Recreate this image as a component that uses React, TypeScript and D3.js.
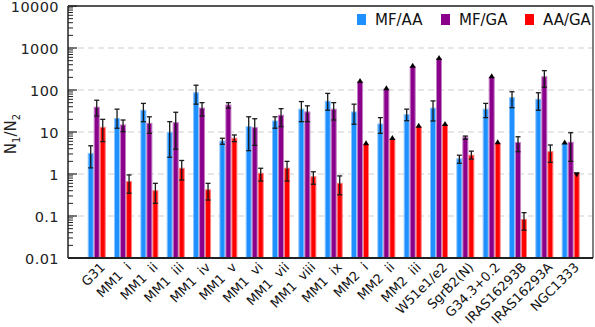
import React from "react";
import * as d3 from "d3";

const categories = [
  "G31", "MM1  i", "MM1  ii", "MM1  iii", "MM1  iv", "MM1  v", "MM1  vi", "MM1  vii",
  "MM1  viii", "MM1  ix", "MM2  i", "MM2  ii", "MM2  iii", "W51e1/e2", "SgrB2(N)",
  "G34.3+0.2", "IRAS16293B", "IRAS16293A", "NGC1333",
];

// MF/AA
const mfAA = [3.1, 21, 33, 9.8, 86, 6.1, 13.4, 18.3, 35, 54, 30, 15.5, 26, 37, 2.3, 35, 66, 60, 5.3];
const mfAALo = [1.4, 12.3, 17.6, 2.5, 46, 5.1, 3.6, 12.3, 17.6, 33, 15.3, 9.3, 18.6, 18.3, 1.8, 22, 38, 33, null];
const mfAAHi = [4.7, 35, 48, 17.6, 130, 7.1, 23, 23, 53, 83, 46, 22, 35, 55, 2.8, 48, 91, 86, null];
const mfAALim = ["", "", "", "", "", "", "", "", "", "", "", "", "", "", "", "", "", "", "lower"];

// MF/GA
const mfGA = [39, 14.7, 16.1, 16.7, 37, 44, 12.7, 25, 30, 35, 155, 104, 360, 550, 7.5, 200, 5.6, 207, 5.7];
const mfGALo = [24, 10.2, 9.3, 3.9, 24, 37, 4.8, 13.4, 17.6, 19.3, null, null, null, null, 6.7, null, 3.4, 116, 2.0];
const mfGAHi = [57, 19.3, 23, 29.5, 50, 50, 20.7, 36, 42, 50, null, null, null, null, 8.0, null, 7.7, 289, 9.6];
const mfGALim = ["", "", "", "", "", "", "", "", "", "", "lower", "lower", "lower", "lower", "", "lower", "", "", ""];

// AA/GA
const aaGA = [12.9, 0.66, 0.4, 1.37, 0.42, 7.1, 1.04, 1.37, 0.86, 0.6, 5.1, 6.8, 13.4, 14.7, 2.8, 5.4, 0.083, 3.4, 1.04];
const aaGALo = [5.9, 0.35, 0.2, 0.72, 0.24, 5.9, 0.68, 0.68, 0.57, 0.32, null, null, null, null, 2.27, null, 0.046, 1.9, null];
const aaGAHi = [20, 0.95, 0.6, 2.1, 0.6, 8.5, 1.37, 2.0, 1.13, 0.9, null, null, null, null, 3.5, null, 0.12, 4.9, null];
const aaGALim = ["", "", "", "", "", "", "", "", "", "", "lower", "lower", "lower", "lower", "", "lower", "", "", "upper"];

const series = [
  { key: "MF/AA", color: "#1e90ff", edge: "#8cc4ff", vals: mfAA, lo: mfAALo, hi: mfAAHi, lim: mfAALim },
  { key: "MF/GA", color: "#8b008b", edge: "#c47fc4", vals: mfGA, lo: mfGALo, hi: mfGAHi, lim: mfGALim },
  { key: "AA/GA", color: "#ff0000", edge: "#ff8080", vals: aaGA, lo: aaGALo, hi: aaGAHi, lim: aaGALim },
];

const yTicks = [0.01, 0.1, 1, 10, 100, 1000, 10000];
const gridTicks = [0.1, 1, 10, 100, 1000];

const W = 595, H = 327;
const left = 68, right = 593, top = 6, bottom = 258;
const font = "'DejaVu Sans', sans-serif";

export default function App() {
  const y = d3.scaleLog().domain([0.01, 10000]).range([bottom, top]);
  const x0 = d3.scaleBand().domain(categories).range([79.4, 588]).padding(0.316);
  const x1 = d3.scaleBand().domain(series.map((s) => s.key)).range([0, x0.bandwidth()]);
  const bw = x1.bandwidth();

  // minor ticks 2..9 per decade
  const minor: number[] = [];
  for (let e = -2; e < 4; e++) for (let m = 2; m <= 9; m++) minor.push(m * Math.pow(10, e));

  const legendX = [357, 441, 525];

  return (
    <svg width={W} height={H} style={{ position: "absolute", left: 0, top: 0, background: "#fff" }} fontFamily={font}>
      {gridTicks.map((t) => (
        <line key={t} x1={left} x2={right} y1={y(t)} y2={y(t)} stroke="#cfcfcf" strokeWidth={1} strokeDasharray="6,4" />
      ))}

      {categories.map((c, i) => (
        <g key={c} transform={`translate(${x0(c)},0)`}>
          {series.map((s) => {
            const bx = x1(s.key)!;
            const v = s.vals[i];
            const cx = bx + bw / 2;
            const lo = s.lo[i], hi = s.hi[i], lim = s.lim[i];
            return (
              <g key={s.key}>
                <rect x={bx + 0.5} y={y(v)} width={bw - 1} height={bottom - y(v)} fill={s.color} stroke={s.edge} strokeWidth={1} />
                {lo != null && hi != null && (
                  <g stroke="#1a1a1a" strokeWidth={1.3}>
                    <line x1={cx} x2={cx} y1={y(lo)} y2={y(hi)} />
                    <line x1={cx - 2.5} x2={cx + 2.5} y1={y(lo)} y2={y(lo)} />
                    <line x1={cx - 2.5} x2={cx + 2.5} y1={y(hi)} y2={y(hi)} />
                  </g>
                )}
                {lim === "lower" && (
                  <path d={`M${cx - 3},${y(v) + 1}L${cx + 3},${y(v) + 1}L${cx},${y(v) - 4}Z`} fill="#000" />
                )}
                {lim === "upper" && (
                  <path d={`M${cx - 3},${y(v) - 1}L${cx + 3},${y(v) - 1}L${cx},${y(v) + 4}Z`} fill="#000" />
                )}
              </g>
            );
          })}
        </g>
      ))}

      {/* frame */}
      <line x1={left} x2={right} y1={top} y2={top} stroke="#555" strokeWidth={2} />
      <line x1={right} x2={right} y1={top} y2={bottom} stroke="#555" strokeWidth={1.5} />
      <line x1={left} x2={left} y1={top} y2={bottom} stroke="#222" strokeWidth={1.5} />
      <line x1={left} x2={right} y1={bottom} y2={bottom} stroke="#222" strokeWidth={2} />

      {/* y ticks */}
      {minor.map((t) => (
        <line key={t} x1={left} x2={left + 5} y1={y(t)} y2={y(t)} stroke="#222" strokeWidth={1} />
      ))}
      {yTicks.map((t) => (
        <g key={t}>
          <line x1={left} x2={left + 9} y1={y(t)} y2={y(t)} stroke="#222" strokeWidth={1.2} />
          <text x={59} y={y(t)} dy="0.38em" textAnchor="end" fontSize={14.5} letterSpacing={0.4} fill="#222">
            {String(t)}
          </text>
        </g>
      ))}

      {/* y title */}
      <text transform={`translate(16,${(top + bottom) / 2 + 2}) rotate(-90)`} textAnchor="middle" fontSize={15} fill="#222">
        N<tspan fontSize={10} dy={4}>1</tspan>
        <tspan dy={-4}>/N</tspan>
        <tspan fontSize={10} dy={4}>2</tspan>
      </text>

      {/* x labels */}
      {categories.map((c) => (
        <text
          key={c}
          transform={`translate(${x0(c)! + x0.bandwidth() / 2 + 4},${263}) rotate(-45)`}
          textAnchor="end"
          dy="0.55em"
          fontSize={13}
          fill="#111"
          style={{ whiteSpace: "pre" }}
        >
          {c}
        </text>
      ))}

      {/* legend */}
      {series.map((s, i) => (
        <g key={s.key}>
          <rect x={legendX[i]} y={14} width={9} height={11} fill={s.color} />
          <text x={legendX[i] + 18} y={25} fontSize={15} fill="#111">
            {s.key}
          </text>
        </g>
      ))}
    </svg>
  );
}
